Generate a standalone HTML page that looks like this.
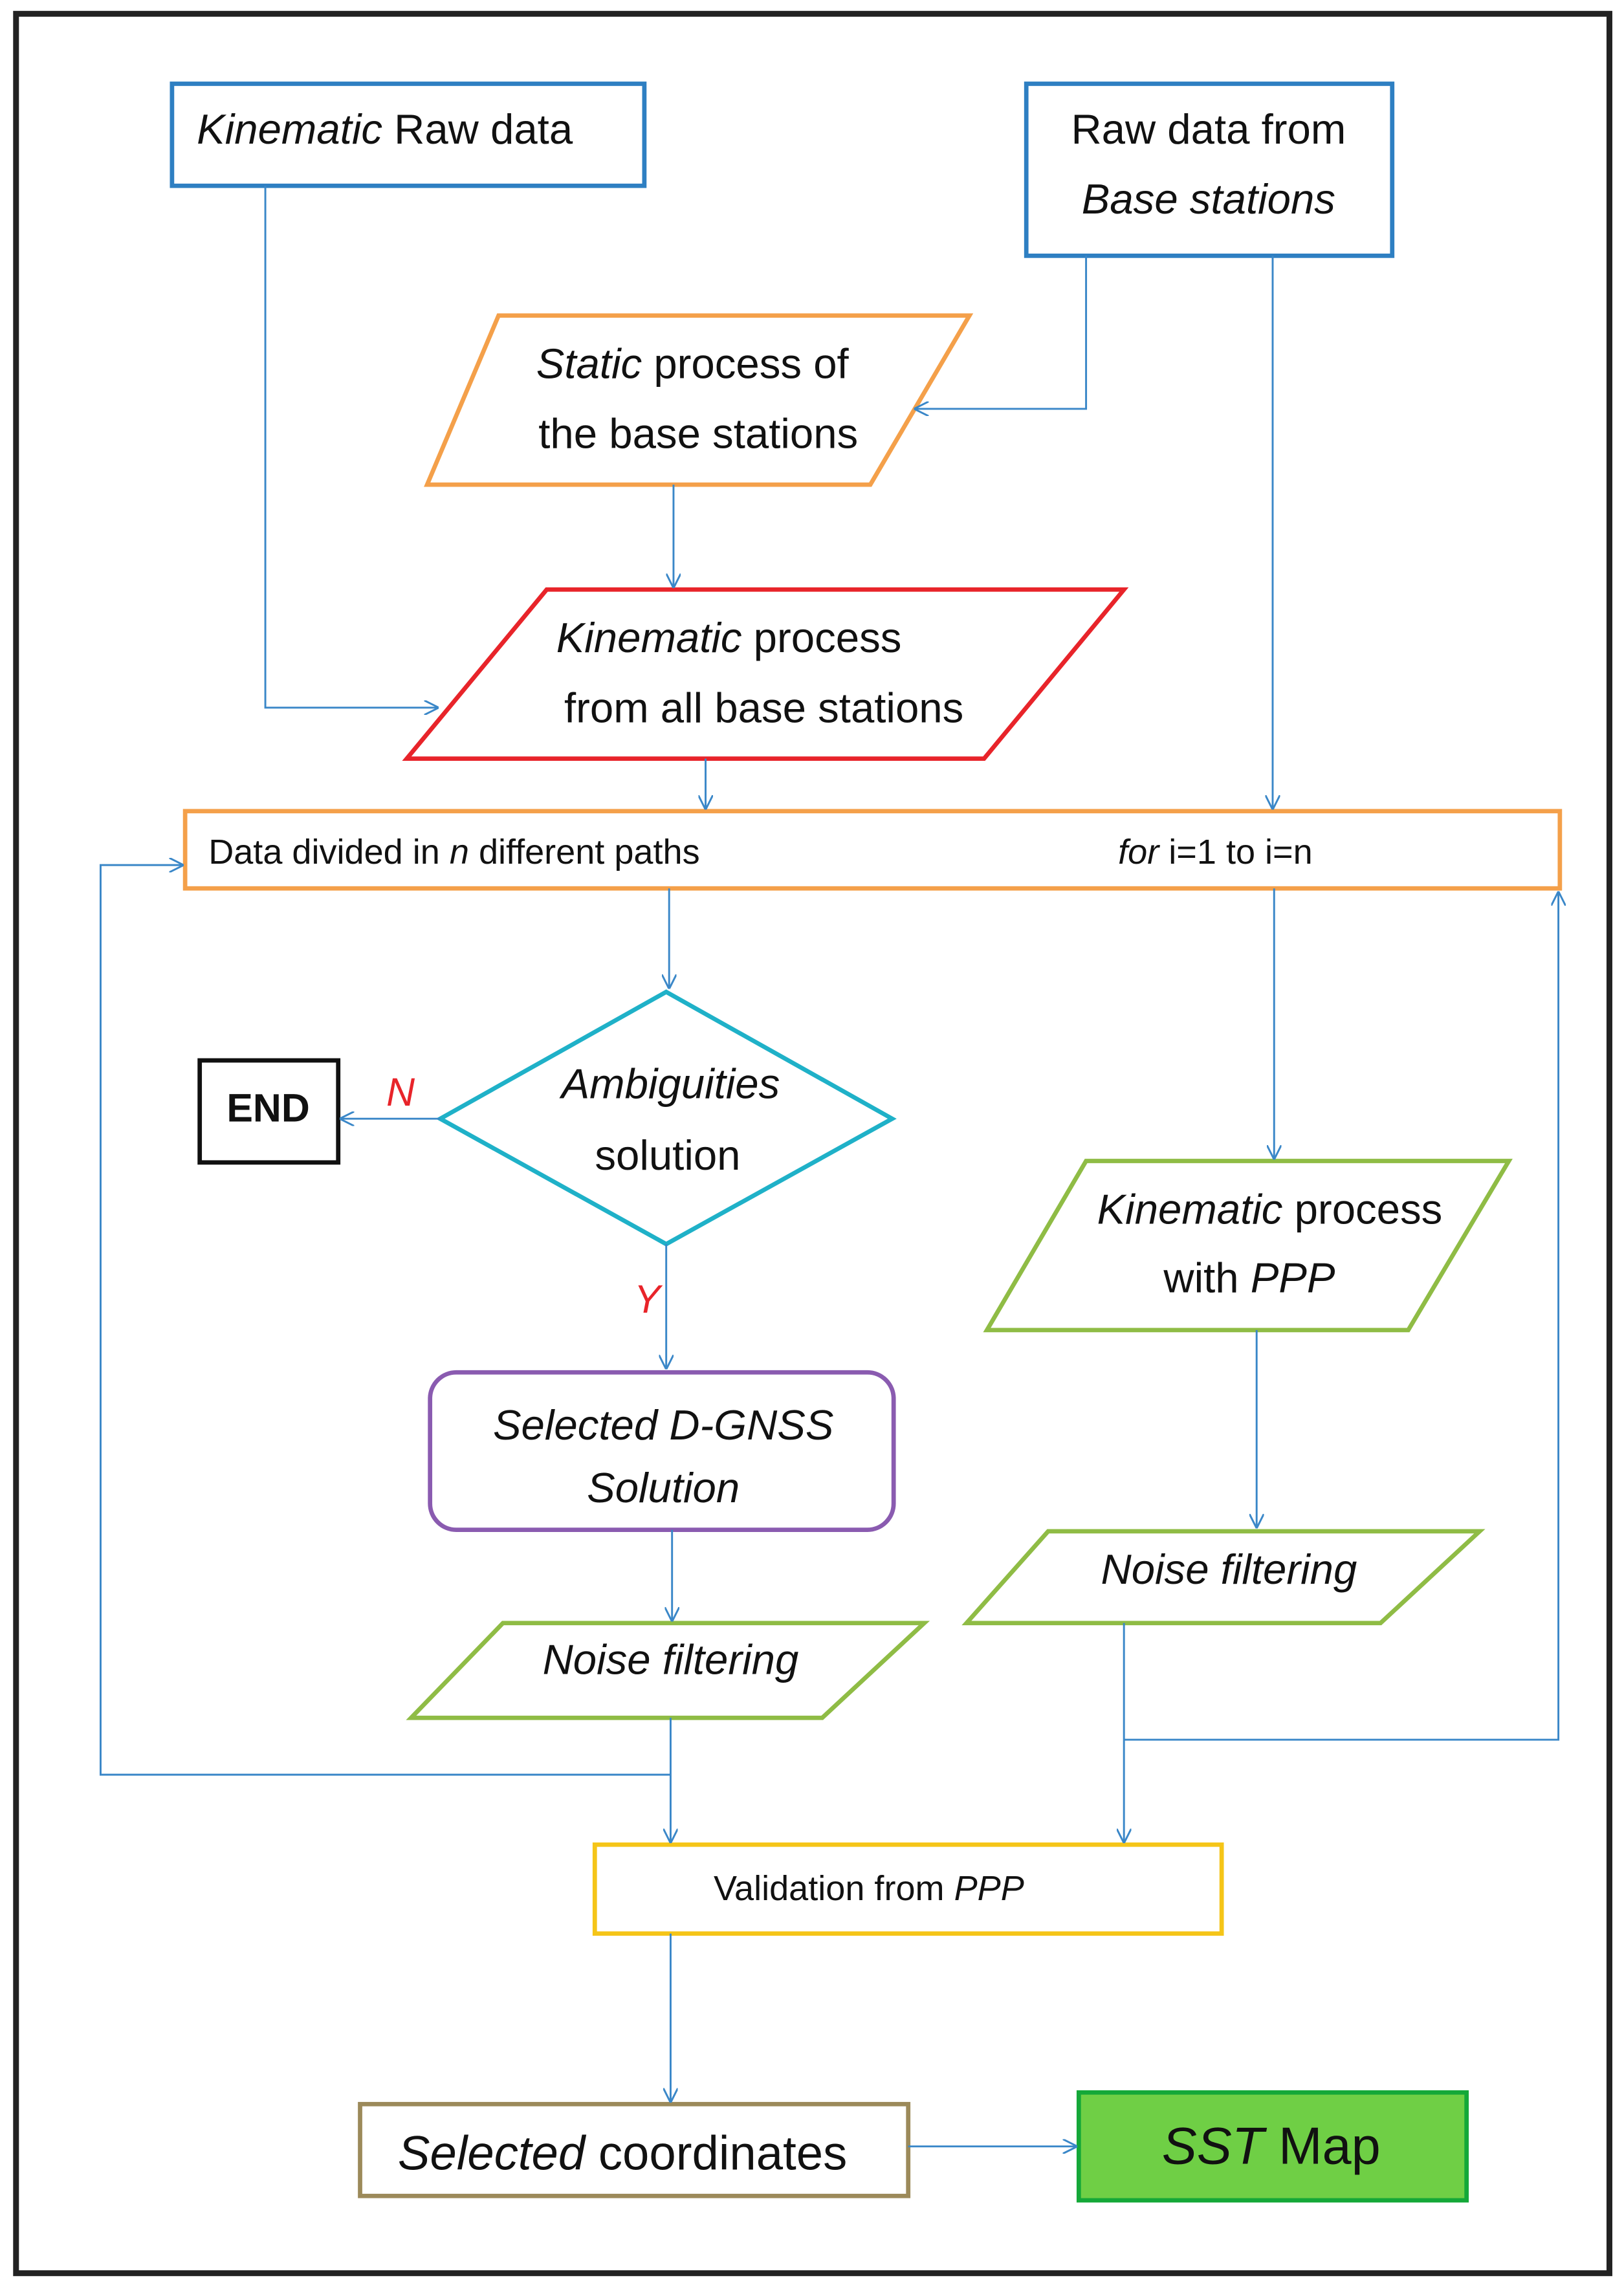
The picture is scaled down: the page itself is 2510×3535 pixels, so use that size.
<!DOCTYPE html>
<html><head><meta charset="utf-8"><style>
html,body{margin:0;padding:0;background:#fff;}
svg{display:block;}
text{font-family:"Liberation Sans",sans-serif;fill:#111;}
</style></head><body>
<svg width="2510" height="3535" viewBox="0 0 1114 1568" xmlns="http://www.w3.org/2000/svg">
<defs><marker id="a" markerWidth="10" markerHeight="10" refX="9" refY="5" orient="auto" markerUnits="userSpaceOnUse"><path d="M0,0 L10,5 L0,10" fill="none" stroke="#3a87c8" stroke-width="1.3"/></marker></defs>
<rect x="11" y="9" width="1093" height="1550" fill="#fff" stroke="#222" stroke-width="4"/>
<g fill="none" stroke-width="3">
<rect x="118" y="57" width="324" height="70" stroke="#2e7fc2"/>
<rect x="704" y="57" width="251" height="118" stroke="#2e7fc2"/>
<polygon points="342,216 665,216 597,332 293,332" stroke="#f4a04a"/>
<polygon points="375,404 771,404 675,520 279,520" stroke="#e8242a"/>
<rect x="127" y="556" width="943" height="53" stroke="#f4a04a"/>
<polygon points="457,680 612,767 457,853 302,767" stroke="#1fb1c8"/>
<rect x="137" y="727" width="95" height="70" stroke="#111"/>
<polygon points="745,796 1035,796 966,912 677,912" stroke="#8fbc45"/>
<rect x="295" y="941" width="318" height="108" rx="18" stroke="#8a5bb0"/>
<polygon points="719,1050 1015,1050 947,1113 663,1113" stroke="#8fbc45"/>
<polygon points="345,1113 634,1113 564,1178 282,1178" stroke="#8fbc45"/>
<rect x="408" y="1265" width="430" height="61" stroke="#f5c518"/>
<rect x="247" y="1443" width="376" height="63" stroke="#9c8a5a"/>
<rect x="740" y="1435" width="266" height="74" fill="#6fcf45" stroke="#14a838"/>
</g>
<g fill="none" stroke="#3a87c8" stroke-width="1.3">
<path d="M182,127 V485 H300" marker-end="url(#a)"/>
<path d="M745,175 V280 H628" marker-end="url(#a)"/>
<path d="M462,332 V402" marker-end="url(#a)"/>
<path d="M873,175 V554" marker-end="url(#a)"/>
<path d="M484,520 V554" marker-end="url(#a)"/>
<path d="M459,609 V677" marker-end="url(#a)"/>
<path d="M874,609 V794" marker-end="url(#a)"/>
<path d="M302,767 H234" marker-end="url(#a)"/>
<path d="M457,853 V938" marker-end="url(#a)"/>
<path d="M862,912 V1047" marker-end="url(#a)"/>
<path d="M461,1049 V1111" marker-end="url(#a)"/>
<path d="M460,1178 V1263" marker-end="url(#a)"/>
<path d="M460,1217 H69 V593 H125" marker-end="url(#a)"/>
<path d="M771,1113 V1263" marker-end="url(#a)"/>
<path d="M771,1193 H1069 V612" marker-end="url(#a)"/>
<path d="M460,1326 V1441" marker-end="url(#a)"/>
<path d="M623,1472 H738" marker-end="url(#a)"/>
</g>
<g font-size="29">
<text x="135" y="98"><tspan font-style="italic">Kinematic</tspan> Raw data</text>
<text x="829" y="98" text-anchor="middle">Raw data from</text>
<text x="829" y="146" text-anchor="middle" font-style="italic">Base stations</text>
<text x="475" y="259" text-anchor="middle"><tspan font-style="italic">Static</tspan> process of</text>
<text x="479" y="307" text-anchor="middle">the base stations</text>
<text x="500" y="447" text-anchor="middle"><tspan font-style="italic">Kinematic</tspan> process</text>
<text x="524" y="495" text-anchor="middle">from all base stations</text>
<text x="460" y="753" text-anchor="middle" font-style="italic">Ambiguities</text>
<text x="458" y="802" text-anchor="middle">solution</text>
<text x="871" y="839" text-anchor="middle"><tspan font-style="italic">Kinematic</tspan> process</text>
<text x="857" y="886" text-anchor="middle">with <tspan font-style="italic">PPP</tspan></text>
<text x="455" y="987" text-anchor="middle" font-style="italic">Selected D-GNSS</text>
<text x="455" y="1030" text-anchor="middle" font-style="italic">Solution</text>
<text x="843" y="1086" text-anchor="middle" font-style="italic">Noise filtering</text>
<text x="460" y="1148" text-anchor="middle" font-style="italic">Noise filtering</text>
<text x="427" y="1488" text-anchor="middle" font-size="33"><tspan font-style="italic">Selected</tspan> coordinates</text>
<text x="872" y="1484" text-anchor="middle" font-size="36"><tspan font-style="italic">SST</tspan> Map</text>
</g>
<text x="143" y="592" font-size="24">Data divided in <tspan font-style="italic">n</tspan> different paths</text>
<text x="767" y="592" font-size="24"><tspan font-style="italic">for</tspan> i=1 to i=n</text>
<text x="596" y="1303" text-anchor="middle" font-size="24">Validation from <tspan font-style="italic">PPP</tspan></text>
<text x="184" y="769" text-anchor="middle" font-size="27" font-weight="bold">END</text>
<text x="265" y="758" font-size="27" font-style="italic" style="fill:#e8242a">N</text>
<text x="435" y="900" font-size="27" font-style="italic" style="fill:#e8242a">Y</text>
</svg>
</body></html>
